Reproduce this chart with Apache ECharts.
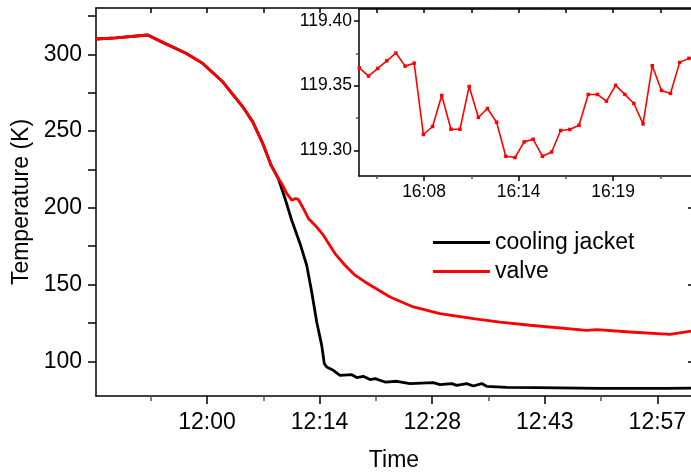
<!DOCTYPE html>
<html><head><meta charset="utf-8">
<script src="https://cdn.jsdelivr.net/npm/echarts@6/dist/echarts.min.js"></script>
<style>html,body{margin:0;padding:0;background:#fff}#c{width:691px;height:473px}</style>
</head><body><div id="c"></div>
<script>
// Main chart: time in minutes since midnight, temperature in K
const jacketTime = [705.80,708.36,712.42,714.33,717.31,719.45,722.01,724.57,725.85,727.12,728.19,729.12,729.98,730.83,731.89,732.75,733.39,734.03,734.67,735.00,735.31,736.15,737.01,738.51,739.15,739.99,740.85,741.49,742.77,744.26,745.96,748.94,749.80,751.30,751.94,753.21,754.06,755.13,755.77,758.33,762.17,770.27,778.80,782.00];
const jacketTemp = [310.0,310.8,312.6,307.8,300.7,294.1,282.1,265.8,256.0,242.0,227.8,219.1,206.1,191.9,176.8,162.6,145.2,125.6,110.4,98.5,96.3,94.1,90.9,91.3,89.4,90.2,88.1,88.7,86.5,87.0,85.5,86.1,84.8,85.5,84.3,85.5,83.9,85.5,83.7,83.0,82.8,82.4,82.4,82.6];
const valveTime = [705.80,708.36,712.42,714.33,717.31,719.45,722.01,724.57,725.85,727.12,728.19,729.12,729.55,730.19,730.83,731.35,731.68,732.32,732.96,733.81,734.88,736.37,737.65,738.93,740.21,743.41,746.39,749.80,754.06,757.47,761.31,768.56,769.84,774.10,779.21,782.00];
const valveTemp = [310.0,310.8,312.6,307.8,300.7,294.1,282.1,265.8,256.0,242.0,227.8,219.1,215.9,209.4,205.0,206.1,205.4,199.6,193.1,188.7,182.2,170.2,162.6,156.1,151.7,141.9,135.4,131.1,127.8,125.6,123.5,120.2,120.7,119.1,117.6,119.8];
// Inset: valve temperature detail
const insetTime = [964.46,965.02,965.58,966.13,966.69,967.25,967.80,968.36,968.92,969.48,970.04,970.59,971.15,971.71,972.26,972.82,973.38,973.94,974.50,975.05,975.61,976.17,976.72,977.28,977.84,978.40,978.96,979.51,980.07,980.63,981.18,981.74,982.30,982.86,983.41,983.97,984.53,985.09];
const insetTemp = [119.3638,119.3574,119.3633,119.3692,119.3752,119.3651,119.3674,119.3122,119.3184,119.3424,119.3163,119.3163,119.3494,119.3254,119.3323,119.3217,119.2954,119.2944,119.3065,119.3085,119.2954,119.2987,119.3153,119.3161,119.3194,119.3432,119.3432,119.3380,119.3502,119.3432,119.3362,119.3204,119.3654,119.3463,119.3440,119.3680,119.3711,119.3730];
// Tick positions
const mainXTicks = [720, 734.4, 748.8, 763.2, 777.6];
const mainXMinor = [712.8, 727.2, 741.6, 756, 770.4];
const mainYTicks = [100, 150, 200, 250, 300];
const mainYMinor = [125, 175, 225, 275, 325];
const insetXTicks = [968.4, 974.16, 979.92];
const insetXMinor = [965.52, 971.28, 977.04, 982.8];
const insetYTicks = [119.30, 119.35, 119.40];
const insetYMinor = [119.325, 119.375];

const FONT = '"Liberation Sans", Arial, sans-serif';
function hhmm(v) {
  const m = Math.floor(v + 1e-6);
  return Math.floor(m / 60) + ':' + String(m % 60).padStart(2, '0');
}
const zip = (a, b) => a.map((v, i) => [v, b[i]]);
const line = { show: true, lineStyle: { color: '#000', width: 1.5 } };
const noLabel = { show: false };

const chart = echarts.init(document.getElementById('c'), null, { renderer: 'canvas' });
chart.setOption({
  animation: false,
  backgroundColor: '#fff',
  grid: [
    { left: 96, top: 8, right: -1, bottom: 77, outerBoundsMode: 'none', containLabel: false },
    { left: 359, top: 9, right: -1, bottom: 297, outerBoundsMode: 'none', containLabel: false,
      show: true, backgroundColor: '#fff', borderWidth: 0, z: 3 }
  ],
  legend: {
    data: ['cooling jacket', 'valve'], orient: 'vertical', left: 433, top: 230.5, padding: 0,
    icon: 'rect', itemWidth: 57, itemHeight: 3, itemGap: 5,
    textStyle: { fontSize: 23, lineHeight: 24, fontFamily: FONT, color: '#000' }
  },
  xAxis: [
    { gridIndex: 0, type: 'value', position: 'bottom', min: 705.8, max: 782.03,
      axisLine: line, splitLine: { show: false },
      axisTick: { show: true, inside: false, length: 8, customValues: mainXTicks, lineStyle: { width: 1.5 } },
      axisLabel: { customValues: mainXTicks, formatter: hhmm, fontSize: 23, fontFamily: FONT, color: '#000', margin: 15 },
      name: 'Time', nameLocation: 'middle', nameGap: 53,
      nameTextStyle: { fontSize: 23, fontFamily: FONT, color: '#000' } },
    { gridIndex: 0, type: 'value', position: 'bottom', min: 705.8, max: 782.03,
      axisLine: { show: false }, splitLine: { show: false },
      axisTick: { show: true, inside: false, length: 5, customValues: mainXMinor, lineStyle: { width: 1.5 } },
      axisLabel: noLabel },
    { gridIndex: 0, type: 'value', position: 'top', min: 705.8, max: 782.03,
      axisLine: line, splitLine: { show: false },
      axisTick: { show: true, inside: true, length: 5, customValues: mainXTicks.concat(mainXMinor), lineStyle: { width: 1.5 } },
      axisLabel: noLabel },
    { gridIndex: 1, type: 'value', position: 'bottom', min: 964.44, max: 984.72,
      axisLine: line, splitLine: { show: false },
      axisTick: { show: true, inside: false, length: 5, customValues: insetXTicks, lineStyle: { width: 1.5 } },
      axisLabel: { customValues: insetXTicks, formatter: hhmm, fontSize: 17.5, fontFamily: FONT, color: '#000', margin: 7 },
      z: 4 },
    { gridIndex: 1, type: 'value', position: 'bottom', min: 964.44, max: 984.72,
      axisLine: { show: false }, splitLine: { show: false },
      axisTick: { show: true, inside: false, length: 3, customValues: insetXMinor, lineStyle: { width: 1.5 } },
      axisLabel: noLabel, z: 4 },
    { gridIndex: 1, type: 'value', position: 'top', min: 964.44, max: 984.72,
      axisLine: line, splitLine: { show: false },
      axisTick: { show: true, inside: true, length: 4, customValues: insetXTicks.concat(insetXMinor), lineStyle: { width: 1.5 } },
      axisLabel: noLabel, z: 4 }
  ],
  yAxis: [
    { gridIndex: 0, type: 'value', position: 'left', min: 77.4, max: 330.2,
      axisLine: line, splitLine: { show: false },
      axisTick: { show: true, inside: false, length: 8, customValues: mainYTicks.concat(mainYMinor), lineStyle: { width: 1.5 } },
      axisLabel: { customValues: mainYTicks, fontSize: 23, fontFamily: FONT, color: '#000', margin: 14 },
      name: 'Temperature (K)', nameLocation: 'middle', nameGap: 53, nameRotate: 90,
      nameTextStyle: { fontSize: 23, fontFamily: FONT, color: '#000' } },
    { gridIndex: 0, type: 'value', position: 'right', min: 77.4, max: 330.2,
      axisLine: line, splitLine: { show: false },
      axisTick: { show: true, inside: true, length: 4, customValues: mainYTicks, lineStyle: { width: 1.5 } },
      axisLabel: noLabel },
    { gridIndex: 1, type: 'value', position: 'left', min: 119.2801, max: 119.4093,
      axisLine: line, splitLine: { show: false },
      axisTick: { show: true, inside: false, length: 5, customValues: insetYTicks, lineStyle: { width: 1.5 } },
      axisLabel: { customValues: insetYTicks, formatter: v => v.toFixed(2), fontSize: 17.5, fontFamily: FONT, color: '#000', margin: 7 },
      z: 4 },
    { gridIndex: 1, type: 'value', position: 'left', min: 119.2801, max: 119.4093,
      axisLine: { show: false }, splitLine: { show: false },
      axisTick: { show: true, inside: false, length: 3, customValues: insetYMinor, lineStyle: { width: 1.5 } },
      axisLabel: noLabel, z: 4 }
  ],
  series: [
    { name: 'cooling jacket', type: 'line', xAxisIndex: 0, yAxisIndex: 0,
      data: zip(jacketTime, jacketTemp), symbol: 'none', color: '#000',
      lineStyle: { color: '#000', width: 2.8 } },
    { name: 'valve', type: 'line', xAxisIndex: 0, yAxisIndex: 0,
      data: zip(valveTime, valveTemp), symbol: 'none', color: '#ff0000',
      lineStyle: { color: '#ff0000', width: 2.8 } },
    { name: 'inset', type: 'line', xAxisIndex: 3, yAxisIndex: 2, z: 5,
      data: zip(insetTime, insetTemp), symbol: 'rect', symbolSize: 3.5, showSymbol: true, color: '#ff0000',
      itemStyle: { color: '#ff0000' }, lineStyle: { color: '#ff0000', width: 1.6 } }
  ]
});
</script></body></html>
